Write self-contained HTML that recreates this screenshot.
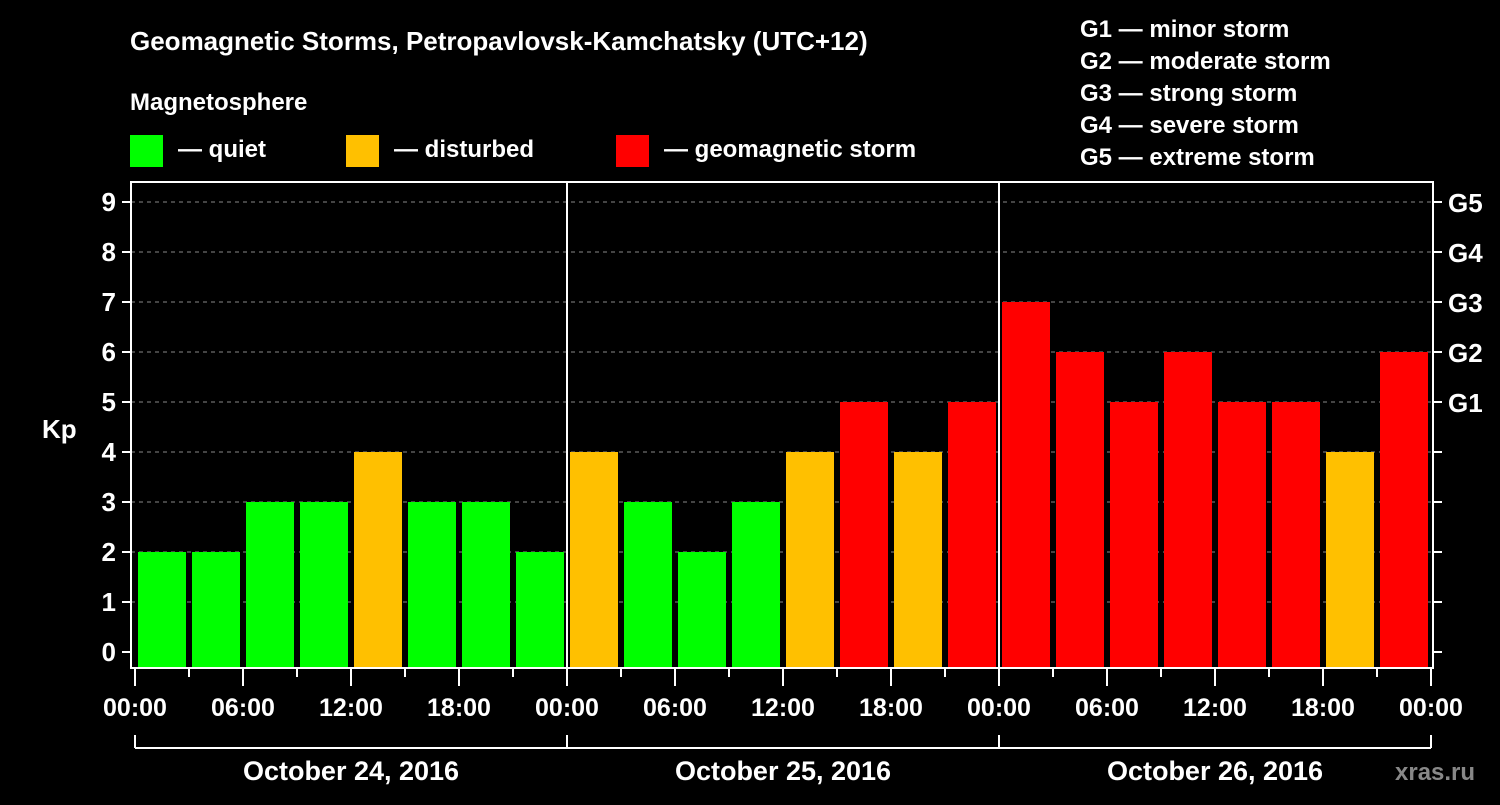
<!DOCTYPE html>
<html><head><meta charset="utf-8"><style>
body{margin:0;background:#000;width:1500px;height:800px;overflow:hidden}
text{font-family:"Liberation Sans",Arial,sans-serif;font-weight:bold;fill:#fff}
</style></head><body>
<svg id="chart" width="1500" height="800" xmlns="http://www.w3.org/2000/svg">
<rect width="1500" height="800" fill="#000"/>
<text x="130" y="50" font-size="26">Geomagnetic Storms, Petropavlovsk-Kamchatsky (UTC+12)</text>
<text x="130" y="110" font-size="24">Magnetosphere</text>
<rect x="130" y="135" width="33" height="32" fill="#00ff00"/>
<text x="178" y="157" font-size="24">— quiet</text>
<rect x="346" y="135" width="33" height="32" fill="#ffc000"/>
<text x="394" y="157" font-size="24">— disturbed</text>
<rect x="616" y="135" width="33" height="32" fill="#ff0000"/>
<text x="664" y="157" font-size="24">— geomagnetic storm</text>
<g font-size="24">
<text x="1080" y="37">G1 — minor storm</text>
<text x="1080" y="69">G2 — moderate storm</text>
<text x="1080" y="101">G3 — strong storm</text>
<text x="1080" y="133">G4 — severe storm</text>
<text x="1080" y="165">G5 — extreme storm</text>
</g>
<text x="42" y="438" font-size="26">Kp</text>
<text x="1395" y="780" font-size="24" style="fill:#888">xras.ru</text>
<g id="plot"></g>
</svg>
<script>
const kpValues=[2,2,3,3,4,3,3,2, 4,3,2,3,4,5,4,5, 7,6,5,6,5,5,4,6];
const hourLabels=["00:00","06:00","12:00","18:00"];
const dayLabels=["October 24, 2016","October 25, 2016","October 26, 2016"];
const gLabels=["G1","G2","G3","G4","G5"];
const ns="http://www.w3.org/2000/svg";
const g=document.getElementById('plot');
const X0=135,PXH=18,Y0=652,PXK=50,L=131,R=1433,T=182,B=668;
const xs=h=>X0+h*PXH, ys=k=>Y0-k*PXK;
function mk(t,a){const e=document.createElementNS(ns,t);for(const k in a)e.setAttribute(k,a[k]);g.appendChild(e);return e;}
for(let k=1;k<=9;k++){
 const e=mk('line',{x1:L,x2:R,y1:ys(k),y2:ys(k),stroke:'#888','stroke-dasharray':'4,4','stroke-width':1});
 
 
}
kpValues.forEach((v,i)=>{
 const c=v>=5?'#ff0000':(v>=4?'#ffc000':'#00ff00');
 const e=mk('rect',{x:xs(i*3)+3,y:ys(v),width:48,height:B-ys(v),fill:c});
 
 
});
mk('rect',{x:L,y:T,width:R-L,height:B-T,fill:'none',stroke:'#fff','stroke-width':2});
for(let d=1;d<dayLabels.length;d++){
 const e=mk('line',{x1:xs(d*24),x2:xs(d*24),y1:T,y2:B,stroke:'#fff','stroke-width':2});
 
 
}
for(let k=0;k<=9;k++){
 mk('line',{x1:122,x2:L,y1:ys(k),y2:ys(k),stroke:'#fff','stroke-width':2});
 mk('line',{x1:R,x2:R+9,y1:ys(k),y2:ys(k),stroke:'#fff','stroke-width':2});
 const t=mk('text',{x:116,y:ys(k)+9,'font-size':26,'text-anchor':'end'});t.textContent=k;
 
 
}
gLabels.forEach((s,i)=>{
 const t=mk('text',{x:1448,y:ys(i+5)+10,'font-size':26});t.textContent=s;
 
 
});
const nh=dayLabels.length*24;
for(let h=0;h<=nh;h+=3){
 const major=h%6===0;
 mk('line',{x1:xs(h),x2:xs(h),y1:B,y2:major?686:677,stroke:'#fff','stroke-width':2});
 if(major){
  const t=mk('text',{x:xs(h),y:716,'font-size':25,'text-anchor':'middle'});t.textContent=hourLabels[(h/6)%4];
  
  
 }
}
mk('line',{x1:xs(0),x2:xs(nh),y1:748,y2:748,stroke:'#fff','stroke-width':2});
dayLabels.forEach((s,d)=>{
 mk('line',{x1:xs(d*24),x2:xs(d*24),y1:735,y2:748,stroke:'#fff','stroke-width':2});
 const t=mk('text',{x:xs(d*24+12),y:780,'font-size':27,'text-anchor':'middle'});t.textContent=s;
 
 
});
mk('line',{x1:xs(nh),x2:xs(nh),y1:735,y2:748,stroke:'#fff','stroke-width':2});
</script>
</body></html>
